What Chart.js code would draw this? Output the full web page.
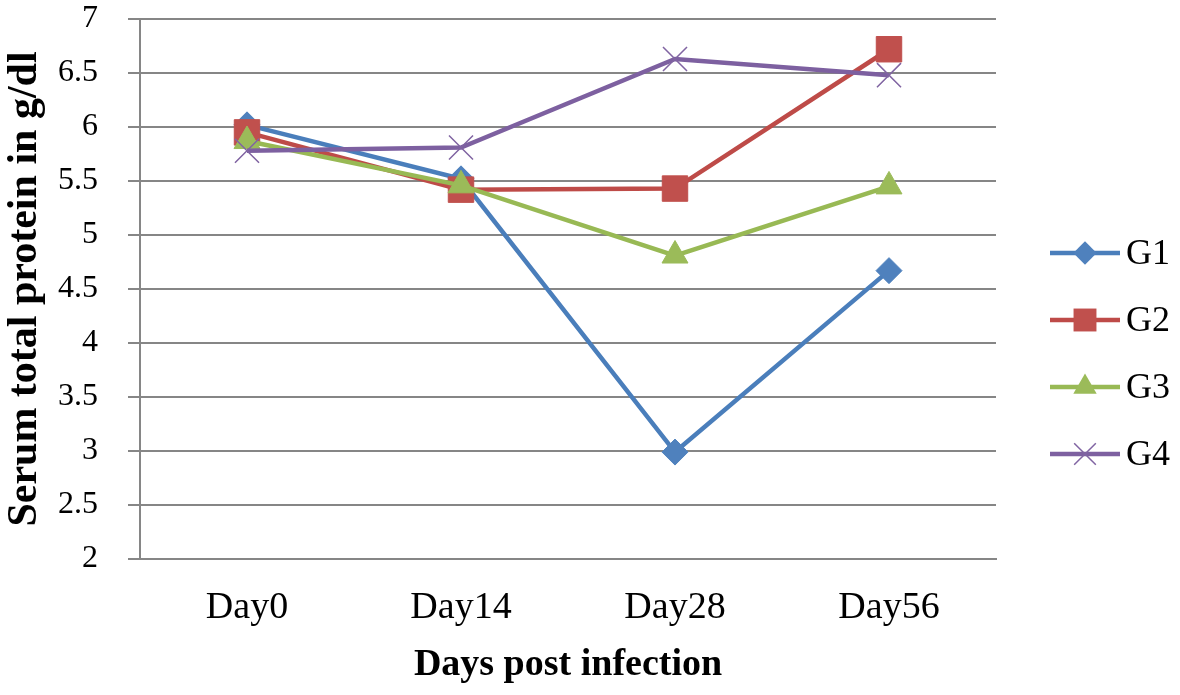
<!DOCTYPE html>
<html>
<head>
<meta charset="utf-8">
<script src="https://cdn.jsdelivr.net/npm/chart.js@4.4.0/dist/chart.umd.min.js"></script>
<style>
    html, body { margin: 0; padding: 0; background: #fff; }
    #wrap { width: 1180px; height: 695px; }
</style>
</head>
<body>
<div id="wrap"><canvas id="proteinChart" width="1180" height="695"></canvas></div>
<script>
const days = ['Day0', 'Day14', 'Day28', 'Day56'];
const seriesNames = ['G1', 'G2', 'G3', 'G4'];

// serum total protein (g/dl) per group
const g1 = [6.02, 5.52, 2.99, 4.67];
const g2 = [5.95, 5.42, 5.43, 6.72];
const g3 = [5.87, 5.46, 4.81, 5.45];
const g4 = [5.78, 5.81, 6.63, 6.48];

const yMin = 2;
const yMax = 7;
const yStep = 0.5;

const gridGrey = '#868686';
const serif = "'Liberation Serif', 'Times New Roman', serif";

function makeSet(label, data, lineColor, markColor, style, radius, bw, order){
    return {
        label: label,
        data: data,
        borderColor: lineColor,
        borderWidth: 4.5,
        backgroundColor: markColor,
        pointStyle: style,
        pointRadius: radius,
        pointHoverRadius: radius,
        pointBackgroundColor: markColor,
        pointBorderColor: markColor,
        pointBorderWidth: bw,
        tension: 0,
        order: order
    };
}

// legend on the right: short line with the marker on it
const sideLegend = {
    id: 'sideLegend',
    afterDraw(chart){
        const ctx = chart.ctx;
        const x0 = 1050, x1 = 1120, rowTop = 253, rowGap = 67;
        chart.data.datasets.forEach(function(ds, i){
            const y = rowTop + i * rowGap;
            const cx = (x0 + x1) / 2;
            ctx.save();
            ctx.strokeStyle = ds.borderColor;
            ctx.lineWidth = 4.5;
            ctx.beginPath();
            ctx.moveTo(x0, y);
            ctx.lineTo(x1, y);
            ctx.stroke();

            ctx.fillStyle = ds.pointBackgroundColor;
            ctx.strokeStyle = ds.pointBorderColor;
            ctx.lineWidth = ds.pointBorderWidth;
            const r = ds.pointRadius * 0.9;
            ctx.beginPath();
            if(ds.pointStyle === 'rectRot'){
                ctx.moveTo(cx, y - r); ctx.lineTo(cx + r, y); ctx.lineTo(cx, y + r); ctx.lineTo(cx - r, y);
                ctx.closePath(); ctx.fill();
            }
            else if(ds.pointStyle === 'rect'){
                const s = r * Math.SQRT1_2;
                ctx.rect(cx - s, y - s, 2 * s, 2 * s); ctx.fill();
            }
            else if(ds.pointStyle === 'triangle'){
                ctx.moveTo(cx, y - r); ctx.lineTo(cx + r * 0.866, y + r * 0.5); ctx.lineTo(cx - r * 0.866, y + r * 0.5);
                ctx.closePath(); ctx.fill();
            }
            else{
                const d = r * Math.SQRT1_2;
                ctx.moveTo(cx - d, y - d); ctx.lineTo(cx + d, y + d);
                ctx.moveTo(cx + d, y - d); ctx.lineTo(cx - d, y + d);
                ctx.stroke();
            }

            ctx.fillStyle = '#000';
            ctx.font = '36px ' + serif;
            ctx.textAlign = 'left';
            ctx.textBaseline = 'middle';
            ctx.fillText(ds.label, x1 + 6, y + 2);
            ctx.restore();
        });
    }
};

var proteinChart = new Chart(
    document.getElementById('proteinChart'),
    {
        type: 'line',
        data: {
            labels: days,
            datasets: [
                makeSet(seriesNames[0], g1, '#4A7EBB', '#4F81BD', 'rectRot', 13, 1, 4),
                makeSet(seriesNames[1], g2, '#BE4B48', '#C0504D', 'rect', 18, 1, 3),
                makeSet(seriesNames[2], g3, '#98B954', '#9BBB59', 'triangle', 15, 1, 2),
                makeSet(seriesNames[3], g4, '#7D60A0', '#8064A2', 'crossRot', 17, 1.5, 1)
            ]
        },
        options: {
            responsive: false,
            animation: false,
            layout: {
                padding: { top: 12, right: 184, bottom: 3, left: 0 }
            },
            plugins: {
                legend: { display: false },
                tooltip: { enabled: false }
            },
            scales: {
                x: {
                    offset: true,
                    grid: { display: false },
                    border: { display: true, color: gridGrey, width: 2 },
                    ticks: {
                        color: '#000',
                        padding: 18,
                        font: { family: serif, size: 38 }
                    },
                    title: {
                        display: true,
                        text: 'Days post infection',
                        color: '#000',
                        padding: { top: 0, bottom: 4 },
                        font: { family: serif, size: 38, weight: 'bold' }
                    },
                    afterFit(scale){ scale.height = 133; }
                },
                y: {
                    min: yMin,
                    max: yMax,
                    ticks: {
                        stepSize: yStep,
                        color: '#000',
                        padding: 30,
                        font: { family: serif, size: 32 },
                        callback: function(value){ return String(value); }
                    },
                    grid: {
                        color: gridGrey,
                        lineWidth: 2,
                        tickLength: 12
                    },
                    border: { display: true, color: gridGrey, width: 2 },
                    title: {
                        display: true,
                        text: 'Serum total protein in g/dl',
                        color: '#000',
                        padding: { top: 0, bottom: 0 },
                        font: { family: serif, size: 42, weight: 'bold' }
                    },
                    afterFit(scale){
                        scale.width = 140;
                        scale.paddingTop = 0;
                        scale.paddingBottom = 0;
                    }
                }
            }
        },
        plugins: [sideLegend]
    }
);
</script>
</body>
</html>
